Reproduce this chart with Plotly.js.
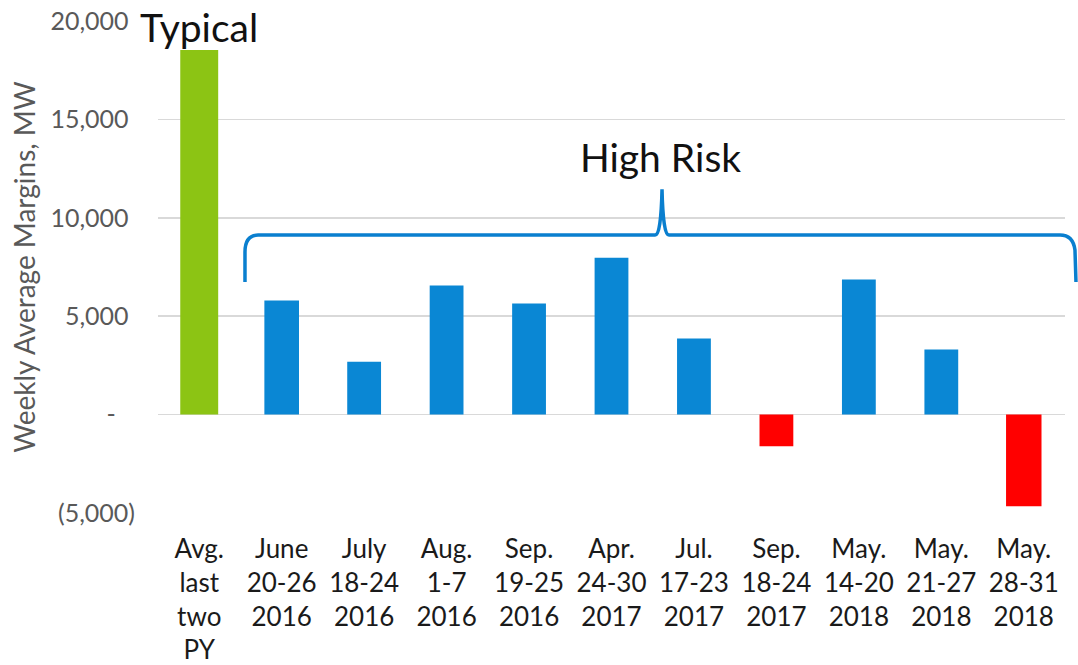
<!DOCTYPE html>
<html>
<head>
<meta charset="utf-8">
<script src="https://cdn.plot.ly/plotly-3.0.1.min.js"></script>
<style>html,body{margin:0;padding:0;background:#fff;}#chart{width:1078px;height:665px;}</style>
</head>
<body>
<div id="chart"></div>
<script>
var categories = [
  "Avg.<br>last<br>two<br>PY",
  "June<br>20-26<br>2016",
  "July<br>18-24<br>2016",
  "Aug.<br>1-7<br>2016",
  "Sep.<br>19-25<br>2016",
  "Apr.<br>24-30<br>2017",
  "Jul.<br>17-23<br>2017",
  "Sep.<br>18-24<br>2017",
  "May.<br>14-20<br>2018",
  "May.<br>21-27<br>2018",
  "May.<br>28-31<br>2018"
];
var margins = [18530, 5800, 2680, 6560, 5650, 7970, 3870, -1610, 6870, 3310, -4660];
var barColors = ["#8cc414", "#0a87d4", "#0a87d4", "#0a87d4", "#0a87d4", "#0a87d4", "#0a87d4", "#ff0000", "#0a87d4", "#0a87d4", "#ff0000"];
var barWidths = [0.46, 0.42, 0.41, 0.41, 0.41, 0.41, 0.41, 0.41, 0.41, 0.41, 0.43];
var yTickVals = [-5000, 0, 5000, 10000, 15000, 20000];
var yTickText = ["(5,000)", "-\u00a0\u00a0\u00a0", "5,000\u00a0", "10,000\u00a0", "15,000\u00a0", "20,000\u00a0"];

var trace = {
  type: "bar",
  x: categories,
  y: margins,
  width: barWidths,
  marker: {color: barColors, line: {width: 0}},
  hoverinfo: "x+y"
};

var bracePath = "M 0.0959,0.4696 L 0.0959,0.5304 Q 0.0959,0.5648 0.1103,0.5648 " +
  "L 0.548,0.5648 Q 0.5546,0.5648 0.5557,0.6579 Q 0.5568,0.5648 0.5634,0.5648 " +
  "L 0.9945,0.5648 Q 1.0088,0.5648 1.011,0.5344 L 1.0121,0.4696";

var layout = {
  width: 1078,
  height: 665,
  margin: {l: 158, r: 13, t: 21, b: 152},
  paper_bgcolor: "#ffffff",
  plot_bgcolor: "#ffffff",
  showlegend: false,
  font: {family: "Lato, 'Open Sans', sans-serif", color: "#595959"},
  xaxis: {
    type: "category",
    range: [-0.5, 10.5],
    autorange: false,
    tickfont: {family: "Lato, sans-serif", size: 26, color: "#1a1a1a"},
    showgrid: false,
    showline: false,
    zeroline: false,
    ticks: "",
    tickangle: 0,
    ticklabelstandoff: 18,
    automargin: false
  },
  yaxis: {
    range: [-5000, 20000],
    autorange: false,
    tickvals: yTickVals,
    ticktext: yTickText,
    tickfont: {family: "Lato, sans-serif", size: 25, color: "#595959"},
    showgrid: true,
    gridcolor: "#d9d9d9",
    gridwidth: 1.5,
    zeroline: true,
    zerolinecolor: "#d9d9d9",
    zerolinewidth: 1.5,
    showline: false,
    ticks: "",
    ticklabelstandoff: 22,
    automargin: false,
    title: {text: "Weekly Average Margins, MW", font: {family: "Lato, sans-serif", size: 28, color: "#595959"}, standoff: 6}
  },
  shapes: [{
    type: "path",
    xref: "paper",
    yref: "paper",
    path: bracePath,
    line: {color: "#0a7fcf", width: 3.5}
  }],
  annotations: [
    {x: 0, y: 19700, xref: "x", yref: "y", text: "Typical", showarrow: false,
     font: {family: "Lato, sans-serif", size: 39, color: "#111111"}, xanchor: "center", yanchor: "middle"},
    {x: 5.59, y: 13100, xref: "x", yref: "y", text: "High Risk", showarrow: false,
     font: {family: "Lato, sans-serif", size: 39, color: "#111111"}, xanchor: "center", yanchor: "middle"}
  ]
};

Plotly.newPlot("chart", [trace], layout, {displayModeBar: false, staticPlot: true});
</script>
</body>
</html>
